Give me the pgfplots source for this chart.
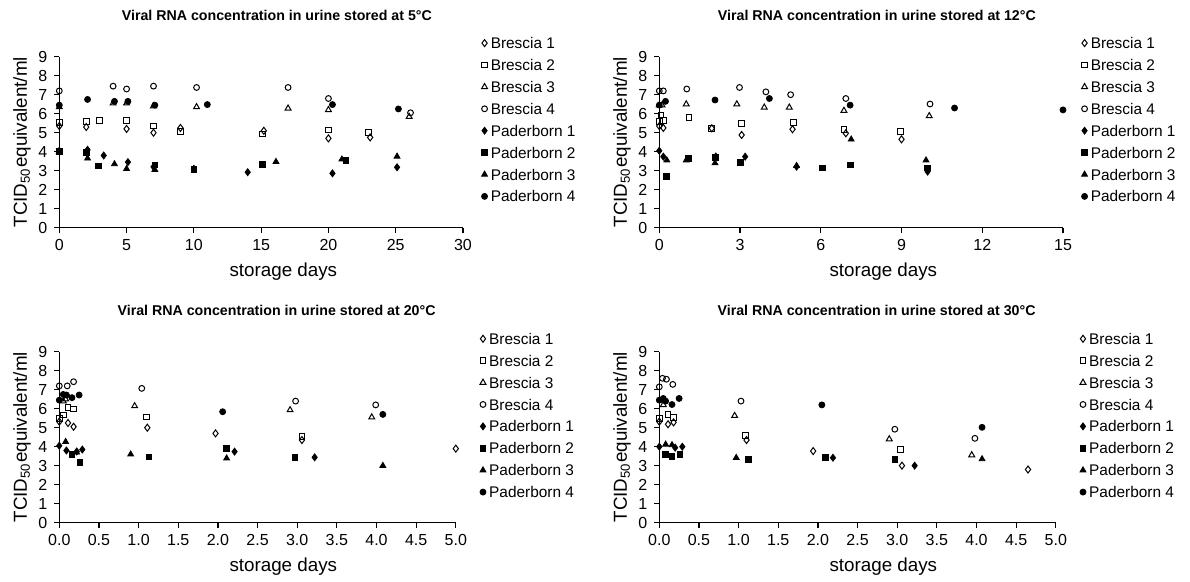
\documentclass[border=0pt]{standalone}
\usepackage{fontspec}
\setmainfont{Liberation Sans}
\usepackage{pgfplots}
\pgfplotsset{compat=1.18}

\pgfplotsset{
  panel/.style={
    scale only axis, height=85.5pt,
    ymin=0, ymax=9, ytick={0,...,9},
    enlargelimits=false, clip=false,
    axis x line=bottom, axis y line=left,
    axis line style={-, line width=0.6pt, black},
    tick style={line width=0.6pt, black},
    major tick length=2.5pt, tick align=outside,
    tick label style={font=\fontsize{8}{9.6}\selectfont},
    /pgf/number format/assume math mode=true,
    label style={font=\fontsize{9.4}{11}\selectfont},
    title style={font=\fontsize{7.1}{8.5}\selectfont\bfseries, anchor=center},
    ylabel={TCID\textsubscript{50}equivalent/ml},
    xlabel={storage days},
    legend cell align=left,
    legend style={draw=none, fill=none, inner sep=0pt, row sep=3.75pt,
      font=\fontsize{7.7}{9}\selectfont, anchor=north west,
      nodes={inner xsep=1.6pt, inner ysep=0.8pt, text height=5.6pt, text depth=0pt}},
    legend image code/.code={\draw[mark repeat=2,mark phase=2,#1] plot coordinates {(0pt,0pt)(3pt,0pt)(6pt,0pt)};},
  },
  wide/.style={width=201.85pt,
    title style={at={(axis description cs:0.539,1.174)}},
    xlabel style={at={(axis description cs:0.555,-0.259)}, anchor=center},
    ylabel style={at={(axis description cs:-0.0924,0.5)}, anchor=center},
    legend style={at={(axis description cs:1.045,1.124)}}},
  narrow/.style={width=198.25pt,
    xmin=0, xmax=5, xtick={0,0.5,...,5},
    xticklabel style={/pgf/number format/.cd, fixed, fixed zerofill, precision=1},
    title style={at={(axis description cs:0.548,1.174)}},
    xlabel style={at={(axis description cs:0.565,-0.259)}, anchor=center},
    ylabel style={at={(axis description cs:-0.0941,0.5)}, anchor=center},
    legend style={at={(axis description cs:1.06,1.12)}}},
  b1/.style={black, only marks, mark=diamond, mark size=1.75pt, mark options={solid, fill=white, line width=0.5pt}},
  b2/.style={black, only marks, mark=square, mark size=1.45pt, mark options={solid, fill=white, line width=0.5pt}},
  b3/.style={black, only marks, mark=triangle, mark size=1.7pt, mark options={solid, fill=white, line width=0.5pt}},
  b4/.style={black, only marks, mark=o, mark size=1.45pt, mark options={solid, fill=white, line width=0.5pt}},
  p1/.style={black, only marks, mark=diamond*, mark size=1.75pt, mark options={solid, fill=black}},
  p2/.style={black, only marks, mark=square*, mark size=1.45pt, mark options={solid, fill=black}},
  p3/.style={black, only marks, mark=triangle*, mark size=1.7pt, mark options={solid, fill=black}},
  p4/.style={black, only marks, mark=*, mark size=1.5pt, mark options={solid, fill=black}},
}

\begin{document}
\begin{tikzpicture}
\useasboundingbox (0,0) rectangle (595pt,-291pt);

% 5 C
\begin{axis}[panel, wide, at={(29.65pt,-113.85pt)}, anchor=south west,
  xmin=0, xmax=30, xtick={0,5,...,30},
  title={Viral RNA concentration in urine stored at 5°C}]
\addplot[b1] coordinates {(0,5.35) (2,5.3) (5,5.2) (7,5.0) (9,5.25) (15.2,5.1) (20,4.7) (23.1,4.75)};
\addplot[b2] coordinates {(0,5.55) (2,5.58) (3,5.63) (5,5.65) (7,5.35) (9,5.05) (15.1,4.93) (20,5.14) (23,5.0)};
\addplot[b3] coordinates {(0,6.35) (4,6.55) (5,6.55) (7,6.4) (10.2,6.35) (17,6.28) (20,6.2) (26,5.84)};
\addplot[b4] coordinates {(0,7.2) (4,7.45) (5,7.3) (7,7.45) (10.2,7.38) (17,7.38) (20,6.8) (26.1,6.05)};
\addplot[p1] coordinates {(0,4.05) (2.1,4.1) (3.3,3.8) (5.1,3.45) (7,3.2) (10,3.1) (14,2.92) (20.3,2.86) (25.1,3.18)};
\addplot[p2] coordinates {(0,4.0) (2,3.95) (2.9,3.25) (7.1,3.3) (10,3.05) (15.1,3.35) (21.3,3.55)};
\addplot[p3] coordinates {(0,4.0) (2.1,3.65) (4.1,3.35) (5,3.1) (7.1,3.05) (16.1,3.47) (21,3.6) (25.1,3.75)};
\addplot[p4] coordinates {(0,6.45) (2.1,6.75) (4.1,6.65) (5.1,6.65) (7.1,6.45) (11,6.48) (20.3,6.48) (25.2,6.25)};
\legend{Brescia 1,Brescia 2,Brescia 3,Brescia 4,Paderborn 1,Paderborn 2,Paderborn 3,Paderborn 4}
\end{axis}

% 12 C
\begin{axis}[panel, wide, at={(329.65pt,-113.85pt)}, anchor=south west,
  xmin=0, xmax=15, xtick={0,3,...,15},
  title={Viral RNA concentration in urine stored at 12°C}]
\addplot[b1] coordinates {(0,5.35) (0.15,5.25) (1.95,5.23) (3.06,4.88) (4.95,5.18) (6.93,4.97) (9,4.65)};
\addplot[b2] coordinates {(0,5.6) (0.06,5.93) (0.15,5.65) (1.1,5.8) (1.95,5.2) (3.06,5.5) (5,5.55) (6.86,5.18) (8.95,5.05)};
\addplot[b3] coordinates {(0,6.45) (0.1,6.45) (1,6.5) (2.88,6.5) (3.9,6.33) (4.83,6.33) (6.86,6.16) (10.03,5.88)};
\addplot[b4] coordinates {(0,7.2) (0.15,7.2) (1.02,7.3) (2.98,7.38) (3.96,7.15) (4.88,7.0) (6.93,6.8) (10.06,6.51)};
\addplot[p1] coordinates {(0,4.05) (0.15,3.74) (2.1,3.75) (3.19,3.74) (5.1,3.21) (9.97,2.95)};
\addplot[p2] coordinates {(0.26,2.68) (1.09,3.65) (2.07,3.7) (3,3.45) (6.06,3.15) (7.1,3.3) (9.97,3.15)};
\addplot[p3] coordinates {(0.28,3.55) (1,3.55) (2.07,3.4) (5.1,3.26) (7.13,4.65) (9.91,3.55)};
\addplot[p4] coordinates {(0,6.45) (0.23,6.65) (2.07,6.72) (4.09,6.8) (7.09,6.45) (10.97,6.3) (15,6.2)};
\legend{Brescia 1,Brescia 2,Brescia 3,Brescia 4,Paderborn 1,Paderborn 2,Paderborn 3,Paderborn 4}
\end{axis}

% 20 C
\begin{axis}[panel, narrow, at={(29.65pt,-261.35pt)}, anchor=south west,
  title={Viral RNA concentration in urine stored at 20°C}]
\addplot[b1] coordinates {(0,5.32) (0.11,5.25) (0.18,5.05) (1.11,5.0) (1.97,4.7) (3.06,4.35) (5.0,3.9)};
\addplot[b2] coordinates {(0,5.5) (0.05,5.67) (0.11,6.05) (0.18,5.98) (1.1,5.56) (3.06,4.55)};
\addplot[b3] coordinates {(0.05,6.4) (0.08,6.5) (0.95,6.14) (2.91,5.93) (3.94,5.55)};
\addplot[b4] coordinates {(0,7.2) (0.1,7.2) (0.18,7.42) (1.04,7.07) (2.98,6.4) (3.99,6.2)};
\addplot[p1] coordinates {(0,4.05) (0.09,3.8) (0.22,3.75) (0.29,3.85) (2.21,3.74) (3.22,3.44)};
\addplot[p2] coordinates {(0.16,3.6) (0.26,3.18) (1.13,3.46) (2.11,3.91) (2.97,3.44)};
\addplot[p3] coordinates {(0.08,4.26) (0.22,3.7) (0.9,3.6) (2.11,3.39) (4.08,3.0)};
\addplot[p4] coordinates {(0,6.45) (0.05,6.75) (0.09,6.72) (0.16,6.58) (0.25,6.72) (2.06,5.84) (4.08,5.7)};
\legend{Brescia 1,Brescia 2,Brescia 3,Brescia 4,Paderborn 1,Paderborn 2,Paderborn 3,Paderborn 4}
\end{axis}

% 30 C
\begin{axis}[panel, narrow, at={(329.65pt,-261.35pt)}, anchor=south west,
  title={Viral RNA concentration in urine stored at 30°C}]
\addplot[b1] coordinates {(0,5.32) (0.11,5.18) (0.18,5.28) (1.1,4.35) (1.94,3.77) (3.06,3.0) (4.65,2.8)};
\addplot[b2] coordinates {(0,5.5) (0.11,5.7) (0.18,5.54) (1.09,4.61) (3.04,3.86)};
\addplot[b3] coordinates {(0.05,6.2) (0.95,5.63) (2.9,4.4) (3.94,3.56)};
\addplot[b4] coordinates {(0,7.15) (0.04,7.6) (0.09,7.55) (0.17,7.28) (1.03,6.4) (2.97,4.92) (3.98,4.44)};
\addplot[p1] coordinates {(0,4.0) (0.2,3.95) (0.29,4.0) (2.19,3.42) (3.22,3.0)};
\addplot[p2] coordinates {(0.08,3.6) (0.16,3.47) (0.26,3.6) (1.12,3.35) (2.09,3.44) (2.97,3.34)};
\addplot[p3] coordinates {(0.08,4.12) (0.16,4.09) (0.97,3.42) (4.07,3.35)};
\addplot[p4] coordinates {(0,6.45) (0.05,6.54) (0.08,6.4) (0.16,6.22) (0.25,6.54) (2.05,6.2) (4.07,5.02)};
\legend{Brescia 1,Brescia 2,Brescia 3,Brescia 4,Paderborn 1,Paderborn 2,Paderborn 3,Paderborn 4}
\end{axis}
\end{tikzpicture}
\end{document}
